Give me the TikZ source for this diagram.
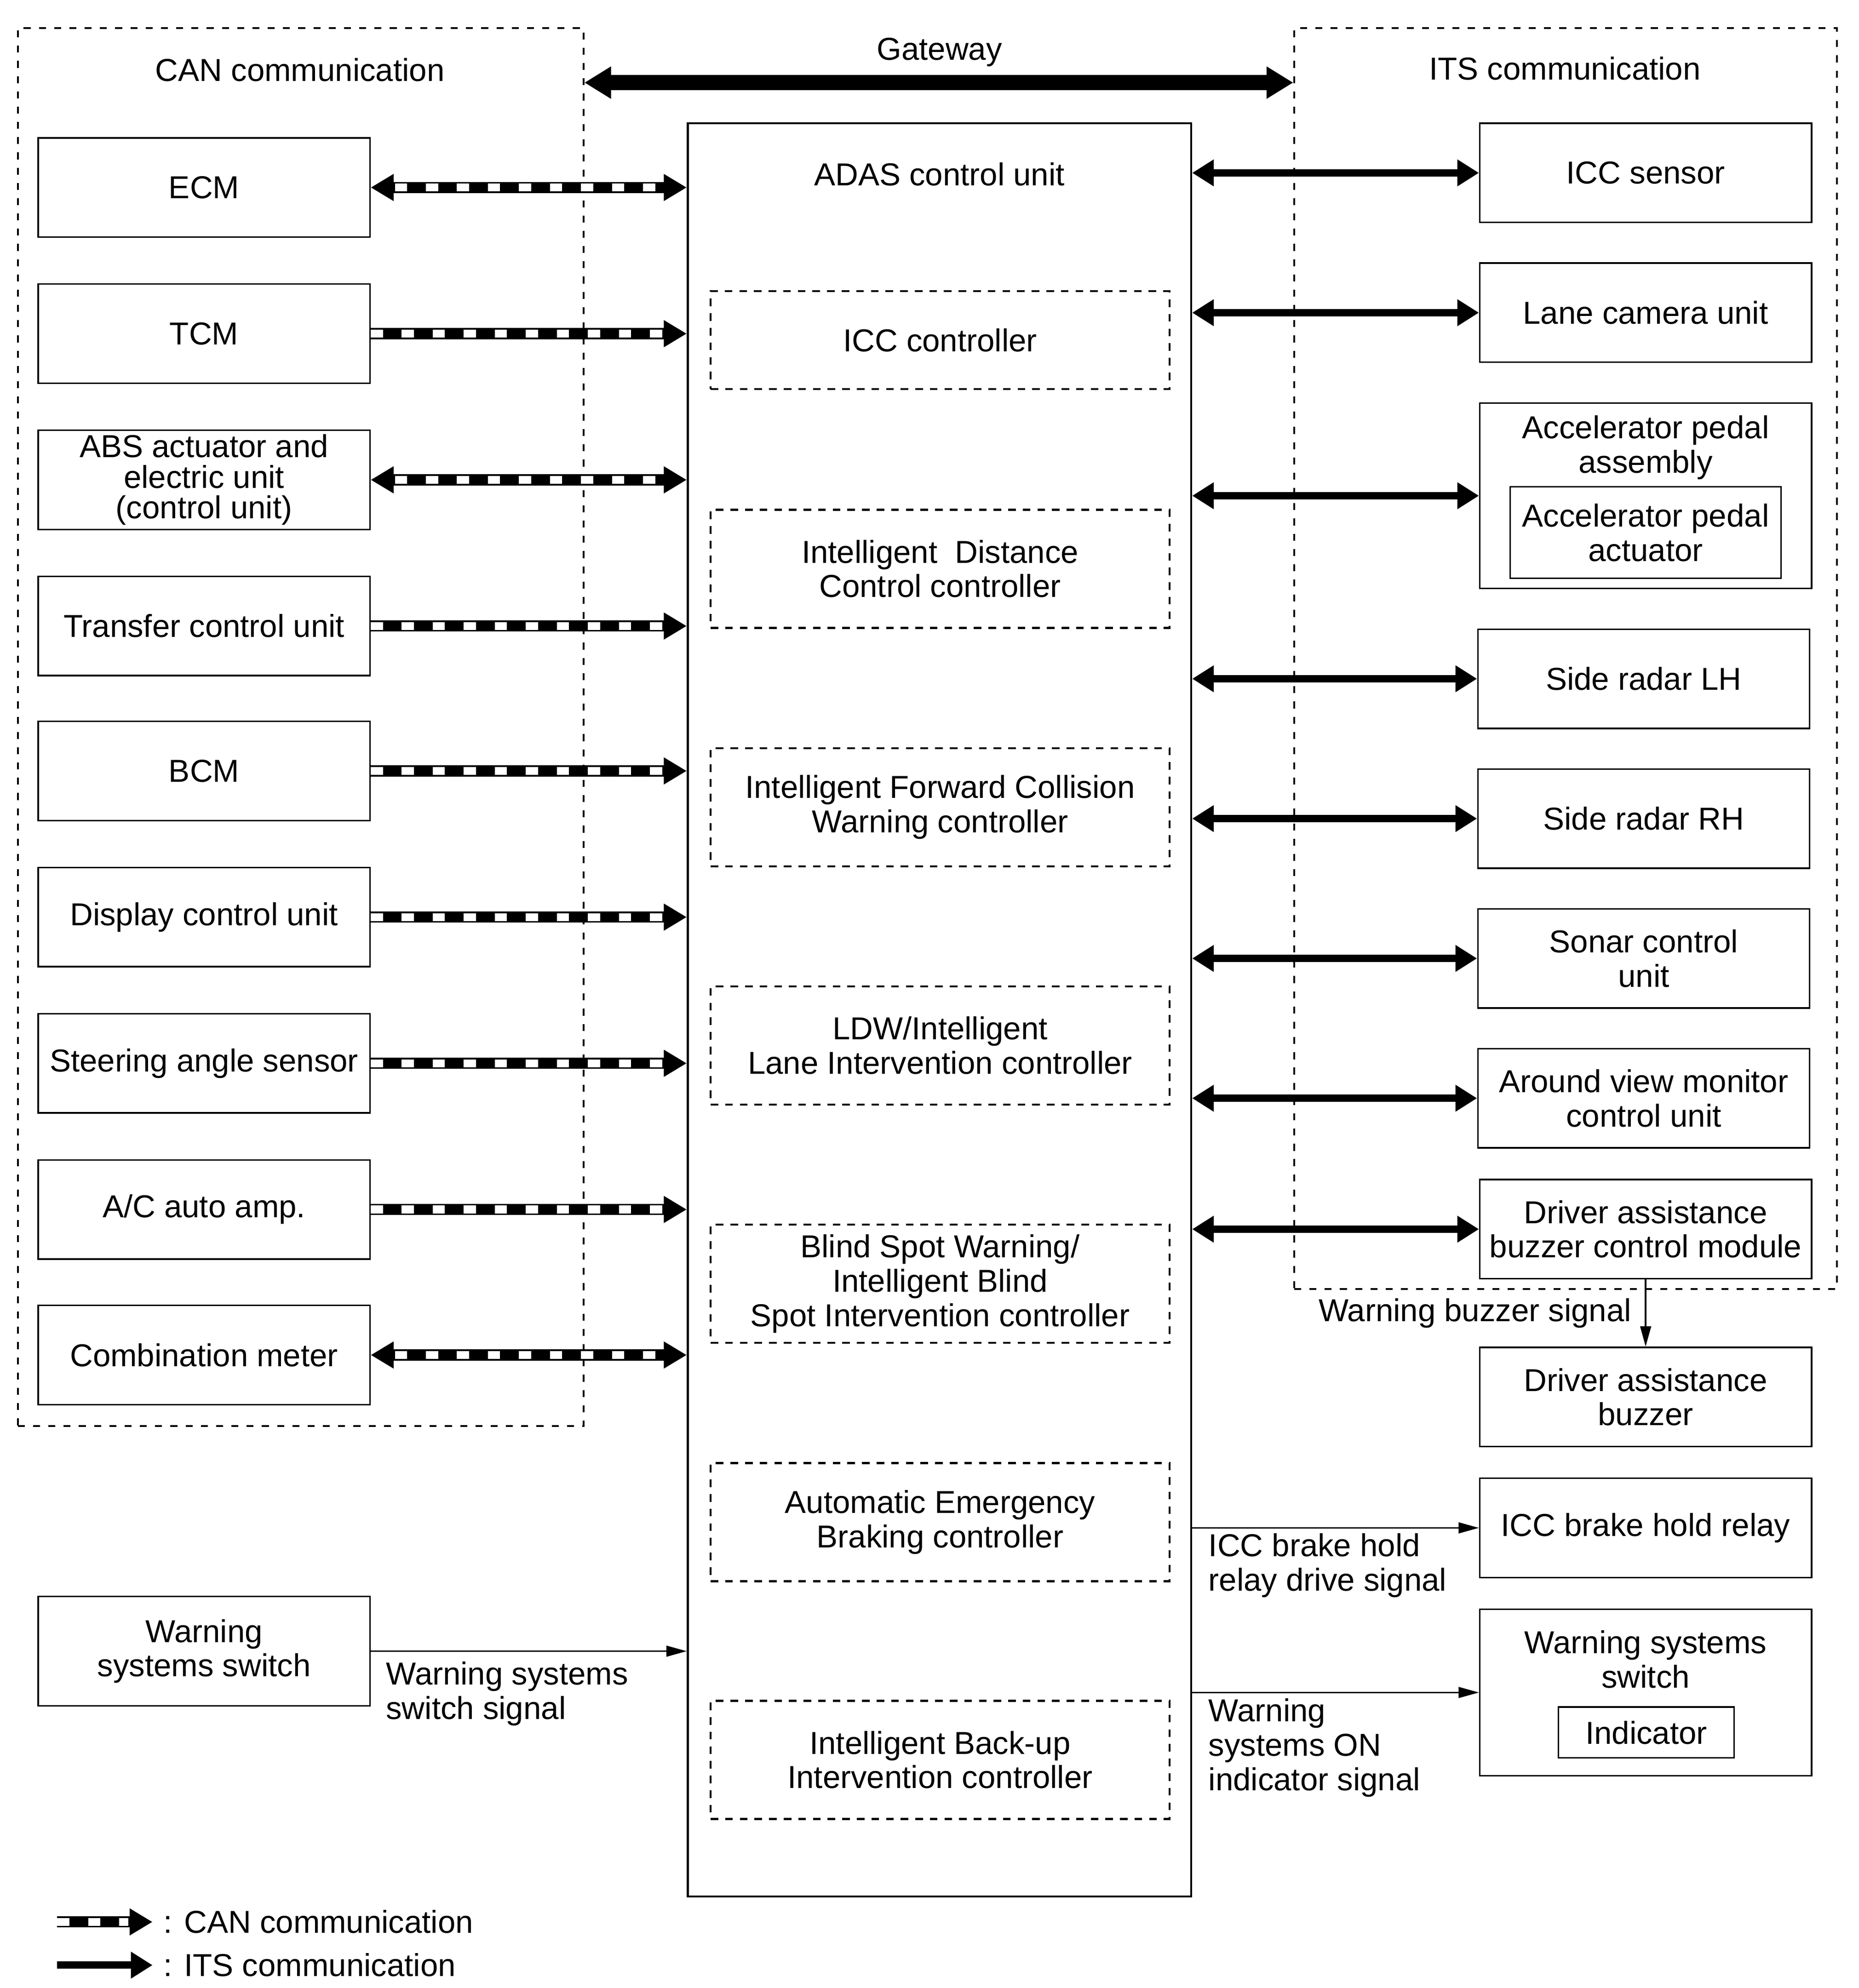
\documentclass[tikz,border=0pt]{standalone}
\usepackage{fontspec}
\setmainfont{Liberation Sans}
\usetikzlibrary{arrows.meta}

\begin{document}
\begin{tikzpicture}[x=1cm, y=-1cm,
    font=\fontsize{7.1}{7.68}\selectfont,
    cantip/.tip={Triangle[length=0.18cm,width=0.2cm]},
    itstip/.tip={Triangle[length=0.17cm,width=0.2cm]},
    gwtip/.tip={Triangle[length=0.21cm,width=0.24cm]},
    sigtip/.tip={Triangle[length=0.16cm,width=0.085cm]},
    unitbox/.style={draw, line width=0.35pt, minimum width=2.61cm, minimum height=0.78cm, align=center, inner sep=0pt},
    ctrlbox/.style={draw, line width=0.45pt, dash pattern=on 0.06cm off 0.055cm, minimum width=3.61cm, minimum height=0.93cm, align=center, inner sep=0pt},
    groupbox/.style={draw, line width=0.4pt, dash pattern=on 0.055cm off 0.065cm, inner sep=0pt},
    txt/.style={inner sep=0pt, align=left},
    canone/.style={line width=0.088cm, -{cantip}, postaction={draw=white, line width=0.062cm, -, dash pattern=on 0.096cm off 0.148cm, shorten >=0.19cm}},
    canboth/.style={line width=0.088cm, {cantip}-{cantip}, postaction={draw=white, line width=0.062cm, -, dash pattern=on 0.096cm off 0.148cm, shorten <=0.19cm, shorten >=0.19cm}},
    itsboth/.style={line width=0.058cm, {itstip}-{itstip}},
    gateway/.style={line width=0.12cm, {gwtip}-{gwtip}},
    sigline/.style={line width=0.35pt, -{sigtip}}]
    \useasboundingbox (0,0) rectangle (14.62,15.64);

    % CAN communication group
    \node[groupbox, minimum width=4.45cm, minimum height=11.0cm] (cangrp) at (2.365,5.72) {};
    \node (cantitle) at (2.36,0.55) {CAN communication};

    % ITS communication group
    \node[groupbox, minimum width=4.27cm, minimum height=9.92cm] (itsgrp) at (12.315,5.18) {};
    \node (itstitle) at (12.31,0.54) {ITS communication};

    % Gateway
    \coordinate (gw) at (7.39,0.65);
    \node (gwlabel) at (7.39,0.41) {Gateway};
    \draw[gateway] (cangrp.east |- gw) -- (itsgrp.west |- gw);

    % ADAS control unit and its controllers
    \node[draw, line width=0.45pt, minimum width=3.96cm, minimum height=13.95cm] (adas) at (7.39,7.945) {};
    \node (adastitle) at (7.39,1.37) {ADAS control unit};
    \node[ctrlbox, minimum height=0.77cm] (icc) at (7.395,2.675) {ICC controller};
    \node[ctrlbox] (idc) at (7.395,4.475) {Intelligent\ \ Distance\\Control controller};
    \node[ctrlbox] (ifcw) at (7.395,6.35) {Intelligent Forward Collision\\Warning controller};
    \node[ctrlbox] (ldw) at (7.395,8.225) {LDW/Intelligent\\Lane Intervention controller};
    \node[ctrlbox] (bsw) at (7.395,10.10) {Blind Spot Warning/\\Intelligent Blind\\Spot Intervention controller};
    \node[ctrlbox] (aeb) at (7.395,11.975) {Automatic Emergency\\Braking controller};
    \node[ctrlbox] (ibi) at (7.395,13.845) {Intelligent Back-up\\Intervention controller};

    % left units (CAN)
    \node[unitbox] (ecm) at (1.605,1.475) {ECM};
    \node[unitbox] (tcm) at (1.605,2.625) {TCM};
    \node[unitbox, font=\fontsize{7.1}{6.83}\selectfont] (abs) at (1.605,3.775) {ABS actuator and\\electric unit\\(control unit)};
    \node[unitbox] (tfr) at (1.605,4.925) {Transfer control unit};
    \node[unitbox] (bcm) at (1.605,6.065) {BCM};
    \node[unitbox] (dcu) at (1.605,7.215) {Display control unit};
    \node[unitbox] (sas) at (1.605,8.365) {Steering angle sensor};
    \node[unitbox] (acamp) at (1.605,9.515) {A/C auto amp.};
    \node[unitbox] (meter) at (1.605,10.66) {Combination meter};
    \node[unitbox, minimum height=0.86cm] (wswl) at (1.605,12.99) {Warning\\systems switch};

    % CAN links
    \draw[canboth] (ecm.east) -- (ecm.east -| adas.west);
    \draw[canone] (tcm.east) -- (tcm.east -| adas.west);
    \draw[canboth] (abs.east) -- (abs.east -| adas.west);
    \draw[canone] (tfr.east) -- (tfr.east -| adas.west);
    \draw[canone] (bcm.east) -- (bcm.east -| adas.west);
    \draw[canone] (dcu.east) -- (dcu.east -| adas.west);
    \draw[canone] (sas.east) -- (sas.east -| adas.west);
    \draw[canone] (acamp.east) -- (acamp.east -| adas.west);
    \draw[canboth] (meter.east) -- (meter.east -| adas.west);

    % right units (ITS)
    \node[unitbox] (iccs) at (12.945,1.36) {ICC sensor};
    \node[unitbox] (lcam) at (12.945,2.46) {Lane camera unit};
    \node[unitbox, minimum height=1.46cm] (accel) at (12.945,3.90) {};
    \node[txt, align=center] (acceltxt) at (12.945,3.52) {Accelerator pedal\\assembly};
    \node[unitbox, minimum width=2.13cm, minimum height=0.72cm] (accact) at (12.945,4.19) {Accelerator pedal\\actuator};
    \node[unitbox] (sdlh) at (12.93,5.34) {Side radar LH};
    \node[unitbox] (sdrh) at (12.93,6.44) {Side radar RH};
    \node[unitbox] (sonar) at (12.93,7.54) {Sonar control\\unit};
    \node[unitbox] (avm) at (12.93,8.64) {Around view monitor\\control unit};
    \node[unitbox] (dabc) at (12.945,9.67) {Driver assistance\\buzzer control module};

    % ITS links
    \draw[itsboth] (adas.east |- iccs.west) -- (iccs.west);
    \draw[itsboth] (adas.east |- lcam.west) -- (lcam.west);
    \draw[itsboth] (adas.east |- accel.west) -- (accel.west);
    \draw[itsboth] (adas.east |- sdlh.west) -- (sdlh.west);
    \draw[itsboth] (adas.east |- sdrh.west) -- (sdrh.west);
    \draw[itsboth] (adas.east |- sonar.west) -- (sonar.west);
    \draw[itsboth] (adas.east |- avm.west) -- (avm.west);
    \draw[itsboth] (adas.east |- dabc.west) -- (dabc.west);

    % other outputs
    \node[unitbox] (dabz) at (12.945,10.99) {Driver assistance\\buzzer};
    \node[unitbox] (ichr) at (12.945,12.02) {ICC brake hold relay};
    \node[unitbox, minimum height=1.31cm] (wswr) at (12.945,13.315) {};
    \node[txt, align=center] (wswrtxt) at (12.945,13.055) {Warning systems\\switch};
    \node[unitbox, minimum width=1.38cm, minimum height=0.40cm] (ind) at (12.95,13.63) {Indicator};

    % signal lines
    \draw[sigline] (wswl.east) -- (wswl.east -| adas.west);
    \node[txt, anchor=west] (wswlsig) at (3.03,13.325) {Warning systems\\switch signal};
    \draw[sigline] (dabc.south) -- (dabz.north);
    \node[txt, anchor=east] (buzsig) at (12.84,10.33) {Warning buzzer signal};
    \draw[sigline] (adas.east |- ichr.west) -- (ichr.west);
    \node[txt, anchor=west] (ichrsig) at (9.50,12.315) {ICC brake hold\\relay drive signal};
    \draw[sigline] (adas.east |- wswr.west) -- (wswr.west);
    \node[txt, anchor=west] (wonsig) at (9.50,13.75) {Warning\\systems ON\\indicator signal};

    % legend
    \coordinate (lgcanA) at (0.45,15.12);
    \coordinate (lgcanB) at (1.20,15.12);
    \draw[canone] (lgcanA) -- (lgcanB);
    \node[txt, anchor=west] (lgcan) at (1.28,15.12) {: CAN communication};
    \coordinate (lgitsA) at (0.45,15.46);
    \coordinate (lgitsB) at (1.20,15.46);
    \draw[line width=0.058cm, -{itstip}] (lgitsA) -- (lgitsB);
    \node[txt, anchor=west] (lgits) at (1.28,15.46) {: ITS communication};
\end{tikzpicture}
\end{document}
